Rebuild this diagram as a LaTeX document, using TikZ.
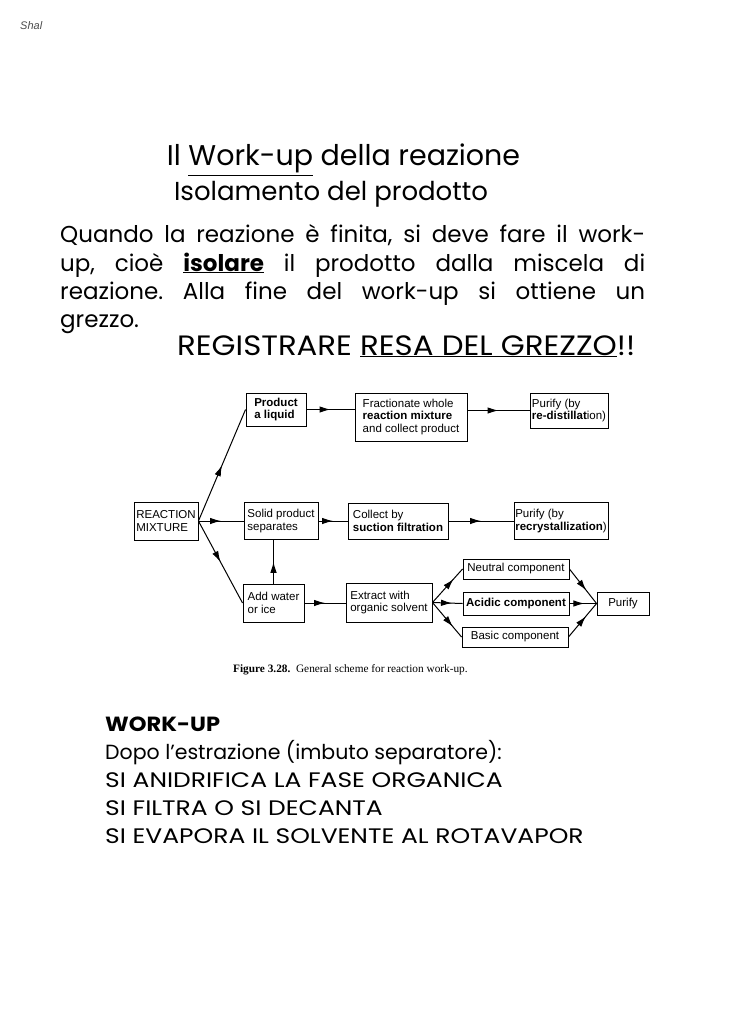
\documentclass[tikz,border=0pt]{standalone}
\usepackage{fontspec}
\setmainfont{Poppins}
\newfontfamily\capsfont[FakeStretch=1.19]{Poppins}
\newfontfamily\regfont[FakeStretch=1.10]{Poppins}
\newfontfamily\diag{Liberation Sans}
\newfontfamily\capf{Liberation Serif}
\usetikzlibrary{arrows.meta,decorations.markings}
\begin{document}
\frenchspacing
\begin{tikzpicture}[x=1pt,y=-1pt,
  box/.style={draw,line width=0.9pt,inner sep=0pt,align=left,font=\diag\fontsize{11.5}{12.5}\selectfont},
  conn/.style={line width=1pt},
  arr/.style={conn,postaction={decorate},decoration={markings,mark=at position #1 with {\arrow{Latex[length=11pt,width=6.5pt]}}}},
  arr/.default=0.5,
  para/.style={font=\fontsize{23}{28}\selectfont,inner sep=0pt},
  low/.style={font=\fontsize{20.5}{28}\selectfont,inner sep=0pt},
  lowcaps/.style={font=\capsfont\fontsize{21}{28}\selectfont,inner sep=0pt},
  ]
\fill[white] (0,0) rectangle (744,1024);
\useasboundingbox (0,0) rectangle (744,1024);

\node[anchor=base west,font=\diag\itshape\fontsize{11}{12}\selectfont,text=gray!60!black,inner sep=0pt] (sig) at (20,30) {Shal};

% title
\node[font=\fontsize{28.5}{32}\selectfont,inner sep=0pt,anchor=base] (t1) at (343.5,166) {Il \underline{Work-up} della reazione};
\node[font=\fontsize{26}{30}\selectfont,inner sep=0pt,anchor=base] (t2) at (331,201) {Isolamento del prodotto};

% paragraph
\node[para,anchor=base west] (p1) at (60,243) {\makebox[585pt][s]{Quando la reazione è finita, si deve fare il work-}};
\node[para,anchor=base west] (p2) at (60,271) {\makebox[585pt][s]{up, cioè \underline{\textbf{isolare}} il prodotto dalla miscela di}};
\node[para,anchor=base west] (p3) at (60,299) {\makebox[585pt][s]{reazione. Alla fine del work-up si ottiene un}};
\node[para,anchor=base west] (p4) at (60,327) {grezzo.};
\node[font=\regfont\fontsize{28}{32}\selectfont,inner sep=0pt,anchor=base west] (reg) at (177,355) {REGISTRARE \underline{RESA DEL GREZZO}!!};

% diagram boxes
\node[box,minimum width=60pt,minimum height=33pt] (pl) at (276,409.5) {\textbf{Product}\\\textbf{a liquid}};
\node[box,minimum width=112pt,minimum height=48pt] (fr) at (411,417) {Fractionate whole\\\textbf{reaction mixture}\\and collect product};
\node[box,minimum width=78pt,minimum height=35pt] (pd) at (569,410.5) {Purify (by\\\textbf{re-distillat}ion)};
\node[box,minimum width=64pt,minimum height=38pt] (rm) at (166,521) {REACTION\\MIXTURE};
\node[box,minimum width=74pt,minimum height=37pt] (sp) at (281,521) {Solid product\\separates};
\node[box,minimum width=100pt,minimum height=36pt] (cf) at (398,521) {Collect by\\\textbf{suction filtration}};
\node[box,minimum width=94pt,minimum height=37pt] (pr) at (561,521) {Purify (by\\\textbf{recrystallization})};
\node[box,minimum width=61pt,minimum height=38pt] (aw) at (273.5,603) {Add water\\or ice};
\node[box,minimum width=86pt,minimum height=39pt] (ex) at (389,602.5) {Extract with\\organic solvent};
\node[box,minimum width=106pt,minimum height=20pt] (nc) at (516,569) {Neutral component};
\node[box,minimum width=106pt,minimum height=23pt] (ac) at (516,603.5) {\textbf{Acidic component}};
\node[box,minimum width=106pt,minimum height=20pt] (bc) at (515,637) {Basic component};
\node[box,minimum width=52pt,minimum height=23pt] (pu) at (623,603.5) {Purify};

% connectors
\draw[arr] (rm.east) -- (pl.west);
\draw[arr] (rm.east) -- (sp.west);
\draw[arr] (rm.east) -- (aw.west);
\draw[arr] (pl.east) -- (pl.east -| fr.west);
\draw[arr] (fr.east |- pd.west) -- (pd.west);
\draw[arr] (sp.east) -- (sp.east -| cf.west);
\draw[arr] (cf.east) -- (cf.east -| pr.west);
\draw[arr] (aw.north) -- (aw.north |- sp.south);
\draw[arr] (aw.east) -- (aw.east -| ex.west);
\draw[arr=0.7] (ex.east) -- (nc.west);
\draw[arr=0.65] (ex.east) -- (ac.west);
\draw[arr=0.7] (ex.east) -- (bc.west);
\draw[arr=0.62] (nc.east) -- (pu.west);
\draw[arr=0.55] (ac.east) -- (pu.west);
\draw[arr=0.62] (bc.east) -- (pu.west);

\node[anchor=base west,font=\capf\fontsize{11.3}{12}\selectfont,inner sep=0pt] (cap) at (233,672) {\textbf{Figure 3.28.}\ \ General scheme for reaction work-up.};

% bottom
\node[font=\regfont\bfseries\fontsize{20.5}{28}\selectfont,inner sep=0pt,anchor=base west] (w0) at (105,731) {WORK-UP};
\node[low,anchor=base west] (w1) at (105,759) {Dopo l’estrazione (imbuto separatore):};
\node[lowcaps,anchor=base west] (w2) at (105,787) {SI ANIDRIFICA LA FASE ORGANICA};
\node[lowcaps,anchor=base west] (w3) at (105,815) {SI FILTRA O SI DECANTA};
\node[lowcaps,anchor=base west] (w4) at (105,843) {SI EVAPORA IL SOLVENTE AL ROTAVAPOR};
\end{tikzpicture}
\end{document}
